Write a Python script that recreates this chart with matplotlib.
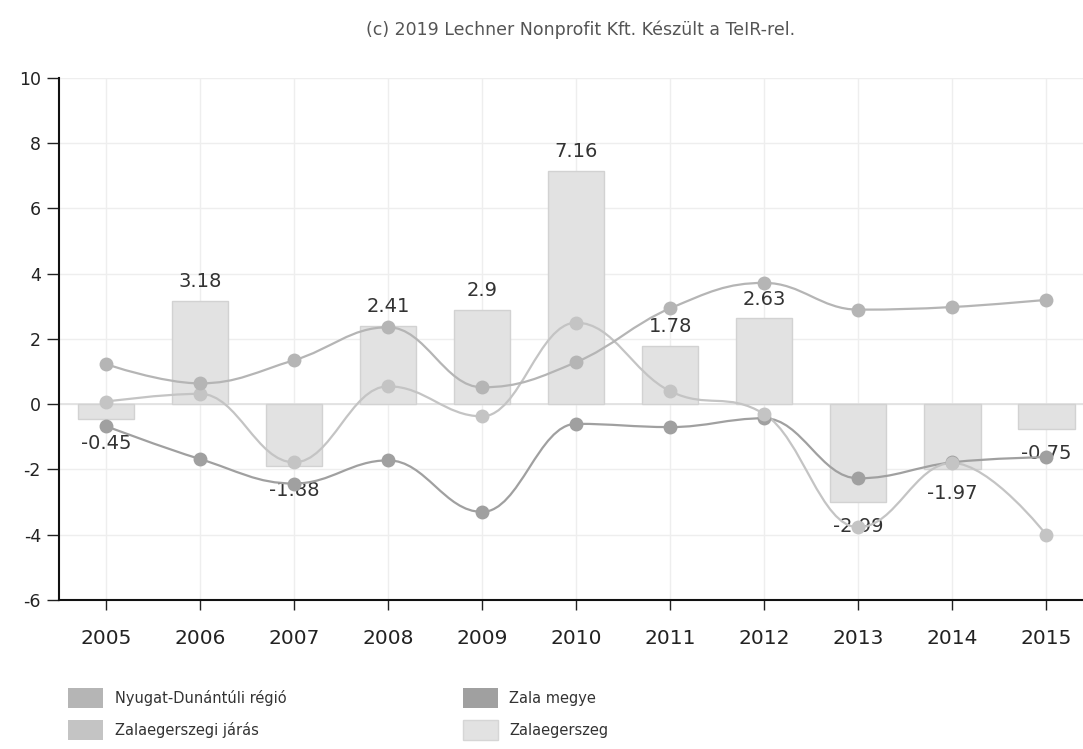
import matplotlib
matplotlib.use("Agg")
import matplotlib.pyplot as plt
import numpy as np
from matplotlib.path import Path
from matplotlib.patches import PathPatch, Patch

years = ["2005", "2006", "2007", "2008", "2009", "2010", "2011", "2012", "2013", "2014", "2015"]
zalaegerszeg = [-0.45, 3.18, -1.88, 2.41, 2.9, 7.16, 1.78, 2.63, -2.99, -1.97, -0.75]
nyugat_dunantul = [1.23, 0.64, 1.35, 2.36, 0.52, 1.29, 2.94, 3.72, 2.9, 2.98, 3.2]
zalaegerszegi_jaras = [0.08, 0.32, -1.78, 0.55, -0.37, 2.5, 0.4, -0.3, -3.77, -1.8, -4.0]
zala_megye = [-0.67, -1.68, -2.43, -1.72, -3.3, -0.6, -0.7, -0.43, -2.27, -1.78, -1.62]

title = "(c) 2019 Lechner Nonprofit Kft. Készült a TeIR-rel."
yticks = [-6, -4, -2, 0, 2, 4, 6, 8, 10]

c_nyugat = "#b5b5b5"
c_megye = "#a0a0a0"
c_jaras = "#c4c4c4"
c_bar = "#e2e2e2"


def spline_path(xs, ys, smoothing=1.5):
    """Highcharts-style spline: bezier control points computed from neighbours."""
    n = len(xs)
    denom = smoothing + 1
    left = [None] * n
    right = [None] * n
    for i in range(1, n - 1):
        px, py = xs[i], ys[i]
        lx, ly = xs[i - 1], ys[i - 1]
        nx, ny = xs[i + 1], ys[i + 1]
        lcx = (smoothing * px + lx) / denom
        lcy = (smoothing * py + ly) / denom
        rcx = (smoothing * px + nx) / denom
        rcy = (smoothing * py + ny) / denom
        if rcx != lcx:
            corr = ((rcy - lcy) * (rcx - px)) / (rcx - lcx) + py - rcy
            lcy += corr
            rcy += corr
        if lcy > ly and lcy > py:
            lcy = max(ly, py)
            rcy = 2 * py - lcy
        elif lcy < ly and lcy < py:
            lcy = min(ly, py)
            rcy = 2 * py - lcy
        if rcy > ny and rcy > py:
            rcy = max(ny, py)
            lcy = 2 * py - rcy
        elif rcy < ny and rcy < py:
            rcy = min(ny, py)
            lcy = 2 * py - rcy
        left[i] = (lcx, lcy)
        right[i] = (rcx, rcy)
    verts = [(xs[0], ys[0])]
    codes = [Path.MOVETO]
    for i in range(1, n):
        c1 = right[i - 1] if right[i - 1] is not None else (xs[i - 1], ys[i - 1])
        c2 = left[i] if left[i] is not None else (xs[i], ys[i])
        verts += [c1, c2, (xs[i], ys[i])]
        codes += [Path.CURVE4] * 3
    return Path(verts, codes)


fig = plt.figure(figsize=(10.83, 7.49), dpi=100)
ax = fig.add_axes([59 / 1083, 1 - 600 / 749, 1 - 59 / 1083, (600 - 78) / 749])

x = np.arange(len(years))
ax.bar(x, zalaegerszeg, width=0.6, color=c_bar, edgecolor="#d2d2d2", linewidth=1.0, zorder=2)

for vals, col in [(zala_megye, c_megye), (zalaegerszegi_jaras, c_jaras), (nyugat_dunantul, c_nyugat)]:
    p = spline_path(list(x.astype(float)), vals)
    ax.add_patch(PathPatch(p, facecolor="none", edgecolor=col, lw=1.6, zorder=4))
    ax.plot(x, vals, linestyle="none", marker="o", markersize=10, color=col,
            markeredgewidth=0, zorder=5)

for xi, v in zip(x, zalaegerszeg):
    if v >= 0:
        ax.annotate(f"{v:g}", (xi, v), xytext=(0, 7), textcoords="offset points",
                    ha="center", va="bottom", fontsize=14, color="#333333", zorder=3.5)
    else:
        ax.annotate(f"{v:g}", (xi, v), xytext=(0, -11), textcoords="offset points",
                    ha="center", va="top", fontsize=14, color="#333333", zorder=3.5)

ax.set_xlim(-0.5, 10.39)
ax.set_ylim(-6, 10)
ax.set_xticks(x)
ax.set_xticklabels(years)
ax.set_yticks(yticks)
ax.set_yticklabels([str(t) for t in yticks])
ax.grid(True, color="#eeeeee", linewidth=1.0, zorder=0)
ax.set_axisbelow(True)
ax.axhline(0, color="#e0e0e0", linewidth=1.2, zorder=1)

for s in ["top", "right"]:
    ax.spines[s].set_visible(False)
for s in ["left", "bottom"]:
    ax.spines[s].set_color("#111111")
    ax.spines[s].set_linewidth(1.5)
ax.tick_params(axis="y", direction="out", length=9, width=1, pad=4, labelsize=12.5,
               colors="#222222")
ax.tick_params(axis="x", direction="out", length=7, width=1, pad=14, labelsize=14.5,
               colors="#222222")

fig.text(581 / 1083, 1 - 30 / 749, title, ha="center", va="center", fontsize=12.5,
         color="#555555")

handles = [Patch(facecolor=c_nyugat, edgecolor="none"),
           Patch(facecolor=c_jaras, edgecolor="none"),
           Patch(facecolor=c_megye, edgecolor="none"),
           Patch(facecolor=c_bar, edgecolor="#d6d6d6")]
labels = ["Nyugat-Dunántúli régió", "Zalaegerszegi járás", "Zala megye", "Zalaegerszeg"]
leg = fig.legend(handles, labels, ncol=2, loc="upper left",
                 bbox_to_anchor=(68 / 1083, 1 - 688 / 749), frameon=False,
                 fontsize=10.5, handlelength=2.4, handleheight=1.7, handletextpad=0.8,
                 columnspacing=12.1, labelspacing=0.85, borderaxespad=0, borderpad=0)
for t in leg.get_texts():
    t.set_color("#333333")

fig.savefig("out.png", dpi=100)
